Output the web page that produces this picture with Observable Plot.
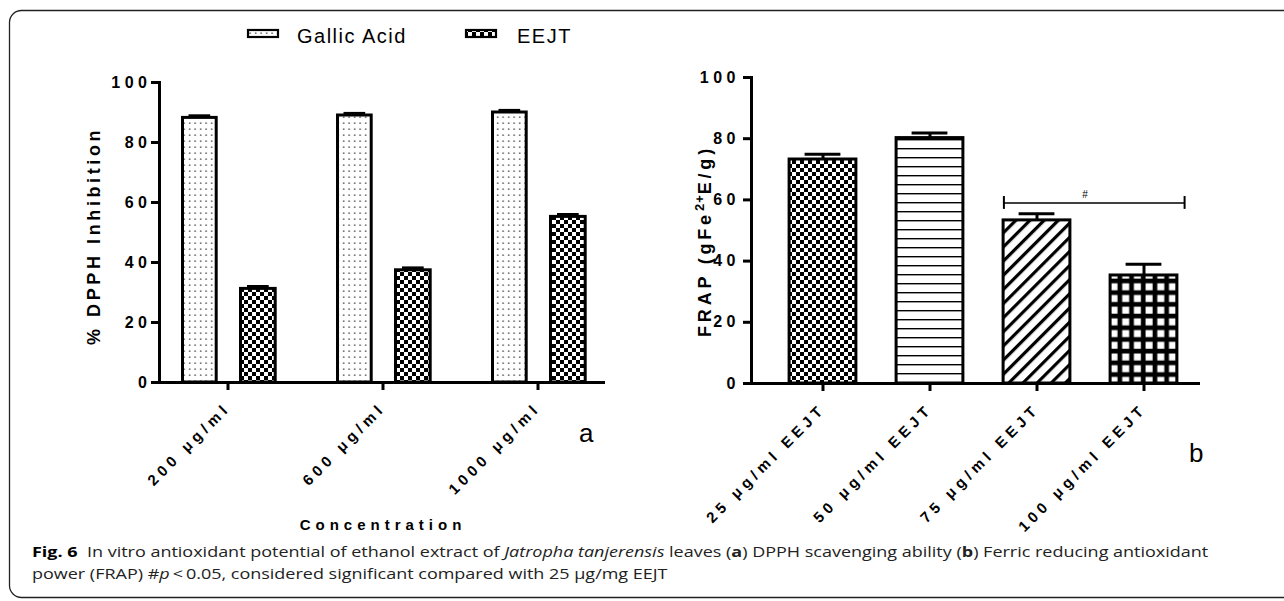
<!DOCTYPE html>
<html>
<head>
<meta charset="utf-8">
<script src="https://cdn.jsdelivr.net/npm/d3@7"></script>
<script src="https://cdn.jsdelivr.net/npm/@observablehq/plot@0.6"></script>
<style>
  html, body { margin: 0; padding: 0; background: #fff; }
  body { width: 1284px; height: 601px; overflow: hidden; position: relative; font-family: "Liberation Sans", Arial, sans-serif; }
  .chart { position: absolute; top: 0; }
  .chart svg { overflow: visible; background: none; }
  #left { left: 0; width: 640px; }
  #right { left: 640px; width: 644px; }
  #overlay { position: absolute; left: 0; top: 0; pointer-events: none; }
  g[aria-label="y-axis tick label"] text, g[aria-label="x-axis tick label"] text {
    font-family: "Liberation Sans", Arial, sans-serif; font-weight: bold; fill: #000;
  }
  g[aria-label="x-axis tick label"] text { font-size: 15px; letter-spacing: 4.5px; }
  g[aria-label="y-axis tick label"] text { font-size: 16px; letter-spacing: 4.5px; }
</style>
</head>
<body>
<svg id="overlay" width="1284" height="601" xmlns="http://www.w3.org/2000/svg">
  <defs>
    <pattern id="pat-dots" patternUnits="userSpaceOnUse" width="5.5" height="6">
      <rect width="5.5" height="6" fill="#fff"/>
      <rect x="2" y="2.5" width="1.3" height="1.3" fill="#222"/>
    </pattern>
    <pattern id="pat-checker" patternUnits="userSpaceOnUse" width="8" height="8">
      <rect width="8" height="8" fill="#fff"/>
      <rect x="0" y="0" width="4" height="4" fill="#000"/>
      <rect x="4" y="4" width="4" height="4" fill="#000"/>
    </pattern>
    <pattern id="pat-hlines" patternUnits="userSpaceOnUse" width="10" height="9">
      <rect width="10" height="9" fill="#fff"/>
      <rect x="0" y="4" width="10" height="1.4" fill="#000"/>
    </pattern>
    <pattern id="pat-diag" patternUnits="userSpaceOnUse" width="10" height="10" patternTransform="rotate(45)">
      <rect width="10" height="10" fill="#fff"/>
      <rect x="0" y="0" width="3.2" height="10" fill="#000"/>
    </pattern>
    <pattern id="pat-grid" patternUnits="userSpaceOnUse" width="11.7" height="11.7">
      <rect width="11.7" height="11.7" fill="#000"/>
      <rect x="2.5" y="2.5" width="7" height="7" fill="#fff"/>
    </pattern>
  </defs>
  <rect x="9.5" y="10.5" width="1400" height="587" rx="12" ry="12" fill="none" stroke="#222" stroke-width="1.3"/>
  <g id="legend"></g>
  <g id="titles" font-family="Liberation Sans, Arial, sans-serif"></g>
  <g id="caption" font-family="Open Sans, Noto Sans, sans-serif" font-size="15" fill="#222" transform="translate(32,0) scale(1.2,1) translate(-32,0)"></g>
</svg>
<div id="left" class="chart"></div>
<div id="right" class="chart"></div>
<script>
// ---------------- data ----------------
const yTicks = [0, 20, 40, 60, 80, 100];

// (a) DPPH scavenging
const concentrations = ["200 μg/ml", "600 μg/ml", "1000 μg/ml"];
const treatments = ["Gallic Acid", "EEJT"];
const gallicAcid = [88.2, 89.0, 90.0];
const gallicAcidErr = [0.7, 0.7, 0.7];
const eejtDpph = [31.2, 37.4, 55.2];
const eejtDpphErr = [0.8, 0.8, 0.8];

// (b) FRAP
const doses = ["25 μg/ml EEJT", "50 μg/ml EEJT", "75 μg/ml EEJT", "100 μg/ml EEJT"];
const frap = [73.2, 80.2, 53.3, 35.3];
const frapErr = [1.7, 1.7, 2.2, 3.7];
const significance = [{from: "75 μg/ml EEJT", to: "100 μg/ml EEJT", y: 59, label: "#"}];

// ---------------- tables ----------------
const dpph = concentrations.flatMap((c, i) => [
  {concentration: c, treatment: treatments[0], value: gallicAcid[i], err: gallicAcidErr[i]},
  {concentration: c, treatment: treatments[1], value: eejtDpph[i], err: eejtDpphErr[i]}
]);
const frapData = doses.map((d, i) => ({dose: d, value: frap[i], err: frapErr[i]}));

const axisFont = {fontFamily: "Liberation Sans, Arial, sans-serif"};
const yAxisOpts = {ticks: yTicks, tickSize: 8, strokeWidth: 3, stroke: "#000", label: null, fontSize: 16, fontWeight: "bold"};
const xAxisOpts = {tickSize: 8, tickPadding: 15, strokeWidth: 3, stroke: "#000", tickRotate: -45, label: null, fontSize: 15, fontWeight: "bold"};

// ---------------- chart a ----------------
const geomL = {
  "Gallic Acid": {barL: 32.5, barR: 88.8, dx: -28.2, capL: 38.5, capR: 94.8},
  "EEJT": {barL: 90.5, barR: 29.8, dx: 30.3, capL: 97, capR: 36.3}
};
const leftMarks = treatments.flatMap(t => {
  const g = geomL[t];
  const d = dpph.filter(r => r.treatment === t);
  return [
    Plot.ruleX(d, {x: "concentration", y1: "value", y2: r => r.value + r.err, dx: g.dx, stroke: "#000", strokeWidth: 2.5}),
    Plot.tickY(d, {x: "concentration", y: r => r.value + r.err, insetLeft: g.capL, insetRight: g.capR, stroke: "#000", strokeWidth: 3}),
    Plot.barY(d, {x: "concentration", y: "value", fill: "treatment", stroke: "#000", strokeWidth: 3, insetLeft: g.barL, insetRight: g.barR})
  ];
});
const left = Plot.plot({
  width: 640, height: 500,
  marginTop: 82, marginBottom: 118, marginLeft: 159, marginRight: 35,
  style: {background: "transparent", overflow: "visible", ...axisFont},
  x: {domain: concentrations, range: [149, 615], padding: 0, label: null},
  y: {domain: [0, 100], label: null},
  color: {domain: treatments, range: ["url(#pat-dots)", "url(#pat-checker)"]},
  marks: [
    ...leftMarks,
    Plot.frame({anchor: "left", stroke: "#000", strokeWidth: 3}),
    Plot.ruleY([0], {stroke: "#000", strokeWidth: 3}),
    Plot.axisY({...yAxisOpts, tickPadding: 0}),
    Plot.axisX(xAxisOpts)
  ]
});
document.getElementById("left").append(left);

// ---------------- chart b ----------------
const right = Plot.plot({
  width: 644, height: 500,
  marginTop: 77, marginBottom: 117, marginLeft: 111, marginRight: 84,
  style: {background: "transparent", overflow: "visible", ...axisFont},
  x: {domain: doses, range: [128, 557], padding: 0, label: null},
  y: {domain: [0, 100], label: null},
  color: {domain: doses, range: ["url(#pat-checker)", "url(#pat-hlines)", "url(#pat-diag)", "url(#pat-grid)"]},
  marks: [
    Plot.ruleX(frapData, {x: "dose", y1: "value", y2: d => d.value + d.err, stroke: "#000", strokeWidth: 3}),
    Plot.tickY(frapData, {x: "dose", y: d => d.value + d.err, insetLeft: 35.6, insetRight: 35.6, stroke: "#000", strokeWidth: 3}),
    Plot.barY(frapData, {x: "dose", y: "value", fill: "dose", stroke: "#000", strokeWidth: 3, insetLeft: 20.1, insetRight: 20.1}),
    Plot.ruleY(significance, {x1: "from", x2: "to", y: "y", insetLeft: 20.5, insetRight: 13, stroke: "#000", strokeWidth: 1.6}),
    Plot.ruleX(significance, {x: "from", y1: d => d.y - 2.1, y2: d => d.y + 2.1, dx: -33.1, stroke: "#000", strokeWidth: 2}),
    Plot.ruleX(significance, {x: "to", y1: d => d.y - 2.1, y2: d => d.y + 2.1, dx: 40.6, stroke: "#000", strokeWidth: 2}),
    Plot.text(significance, {x: "from", y: d => d.y + 2.8, text: "label", dx: 48, fontSize: 10, fill: "#000"}),
    Plot.frame({anchor: "left", stroke: "#000", strokeWidth: 3}),
    Plot.ruleY([0], {stroke: "#000", strokeWidth: 3}),
    Plot.axisY({...yAxisOpts, tickPadding: 3.5}),
    Plot.axisX(xAxisOpts)
  ]
});
document.getElementById("right").append(right);

// ---------------- overlay text ----------------
const legendItems = [
  {name: treatments[0], pat: "url(#pat-dots)", bx: 248, tx: 297},
  {name: treatments[1], pat: "url(#pat-checker)", bx: 466, tx: 517}
];
const lg = d3.select("#legend");
legendItems.forEach(it => {
  lg.append("rect").attr("x", it.bx).attr("y", 30).attr("width", 30).attr("height", 7)
    .attr("fill", it.pat).attr("stroke", "#000").attr("stroke-width", 2.2);
  lg.append("text").attr("x", it.tx).attr("y", 43).attr("font-family", "Liberation Sans, Arial, sans-serif")
    .attr("font-size", 20).attr("letter-spacing", 1.5).text(it.name);
});

const tg = d3.select("#titles");
tg.append("text").attr("transform", "translate(100,236) rotate(-90)").attr("text-anchor", "middle")
  .attr("font-size", 18).attr("font-weight", "bold").attr("letter-spacing", 3.6).text("% DPPH Inhibition");
const ft = tg.append("text").attr("transform", "translate(711,241) rotate(-90)").attr("text-anchor", "middle")
  .attr("font-size", 18).attr("font-weight", "bold").attr("letter-spacing", 3.8);
ft.append("tspan").text("FRAP (gFe");
ft.append("tspan").attr("baseline-shift", "super").attr("font-size", 13).attr("letter-spacing", 1).text("2+");
ft.append("tspan").text("E/g)");
tg.append("text").attr("x", 383).attr("y", 530).attr("text-anchor", "middle")
  .attr("font-size", 15).attr("font-weight", "bold").attr("letter-spacing", 5).text("Concentration");
tg.append("text").attr("x", 579).attr("y", 442).attr("font-size", 26).text("a");
tg.append("text").attr("x", 1189).attr("y", 462).attr("font-size", 26).text("b");

const cg = d3.select("#caption");
const l1 = cg.append("text").attr("x", 32).attr("y", 557);
l1.append("tspan").attr("font-weight", "bold").attr("fill", "#000").text("Fig. 6");
l1.append("tspan").text("\u00a0 In vitro antioxidant potential of ethanol extract of ");
l1.append("tspan").attr("font-style", "italic").text("Jatropha tanjerensis");
l1.append("tspan").text(" leaves (");
l1.append("tspan").attr("font-weight", "bold").text("a");
l1.append("tspan").text(") DPPH scavenging ability (");
l1.append("tspan").attr("font-weight", "bold").text("b");
l1.append("tspan").text(") Ferric reducing antioxidant");
const l2 = cg.append("text").attr("x", 32).attr("y", 579);
l2.append("tspan").text("power (FRAP) #");
l2.append("tspan").attr("font-style", "italic").text("p");
l2.append("tspan").text("\u2009<\u20090.05, considered significant compared with 25 μg/mg EEJT");
</script>
</body>
</html>
